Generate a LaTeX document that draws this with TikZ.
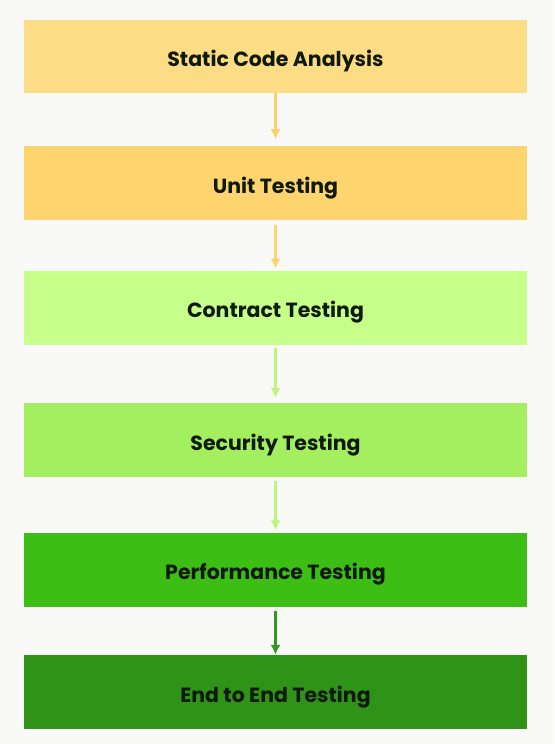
\documentclass[tikz,border=0pt]{standalone}
\usepackage{fontspec}
\setmainfont{Poppins}
\usetikzlibrary{positioning}
\usetikzlibrary{calc}
\usetikzlibrary{arrows.meta}

\definecolor{bgpage}{HTML}{F9F9F7}
\definecolor{sandyellow}{HTML}{FCDC84}
\definecolor{unityellow}{HTML}{FED46E}
\definecolor{palegreen}{HTML}{C6FF8A}
\definecolor{limegreen}{HTML}{A4EF5F}
\definecolor{grassgreen}{HTML}{3DBE14}
\definecolor{forestgreen}{HTML}{2F9317}
\definecolor{inkdark}{HTML}{101A0C}
\definecolor{arrowyellow}{HTML}{F9D06B}
\definecolor{arrowgreen}{HTML}{BDF57E}
\definecolor{arrowdark}{HTML}{2F9A1E}

\tikzset{
    stage/.style={draw=none, rectangle, minimum width=503pt, minimum height=74pt,
        text height=20pt, text depth=0pt,
        font=\fontsize{20.5}{23}\selectfont\bfseries, text=inkdark},
    flow/.style={-{Latex[length=10pt, width=10pt]}, line width=2.3pt, shorten <=4pt}
}

\begin{document}
\begin{tikzpicture} [scale=1, transform shape]
    \fill[bgpage] (0pt, 0pt) rectangle (554pt, -744pt);
    \useasboundingbox (0pt, 0pt) rectangle (554pt, -744pt);

    % Pipeline of testing stages, top to bottom
    \node (SCA) [stage, fill=sandyellow, minimum height=73pt] at (275.5pt, -56.5pt) {Static Code Analysis};
    \node (UT) [stage, fill=unityellow, below=53pt of SCA] {Unit Testing};
    \node (CT) [stage, fill=palegreen, below=50pt of UT] {Contract Testing};
    \node (ST) [stage, fill=limegreen, below=58pt of CT] {Security Testing};
    \node (PT) [stage, fill=grassgreen, below=55pt of ST] {Performance Testing};
    \node (EE) [stage, fill=forestgreen, below=48pt of PT] {End to End Testing};

    \draw[flow, arrowyellow, shorten <=0pt, shorten >=7pt] (SCA.south) -- (UT.north);
    \draw[flow, unityellow, shorten >=2pt] (UT.south) -- (CT.north);
    \draw[flow, arrowgreen, shorten <=3pt, shorten >=5pt] (CT.south) -- (ST.north);
    \draw[flow, arrowgreen, shorten >=2pt] (ST.south) -- (PT.north);
    \draw[flow, arrowdark] (PT.south) -- (EE.north);

\end{tikzpicture}
\end{document}
